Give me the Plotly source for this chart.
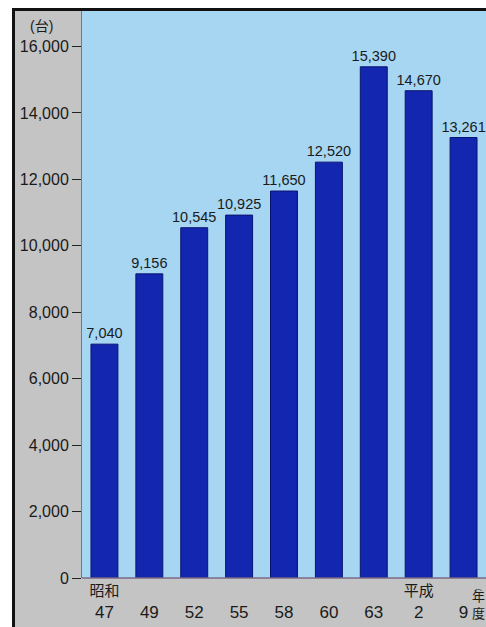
import plotly.graph_objects as go

categories = ["S47", "S49", "S52", "S55", "S58", "S60", "S63", "H2", "H9"]
tick_labels = ["<span style='font-size:15px'>昭和</span><br>47", "\u00a0<br>49", "\u00a0<br>52",
               "\u00a0<br>55", "\u00a0<br>58", "\u00a0<br>60", "\u00a0<br>63",
               "<span style='font-size:15px'>平成</span><br>2", "\u00a0<br>9"]
values = [7040, 9156, 10545, 10925, 11650, 12520, 15390, 14670, 13261]
value_labels = [f"{v:,}" for v in values]
y_ticks = [0, 2000, 4000, 6000, 8000, 10000, 12000, 14000, 16000]
y_tick_labels = [f"{v:,}" for v in y_ticks]

W, H = 486, 627
ml, mr, mt, mb = 82, 0, 10, 49
pw, ph = W - ml - mr, H - mt - mb
FONT = "Liberation Sans, Arial, Noto Sans CJK JP"

def px_x(x):
    return (x - ml) / pw

def px_y(y):
    return (H - mb - y) / ph

fig = go.Figure()
fig.add_trace(go.Bar(
    x=categories, y=values, text=value_labels, textposition="outside",
    textfont=dict(family=FONT, size=14.5, color="#1a1a1a"),
    marker=dict(color="#1226b0", line=dict(color="#0a1470", width=1)),
    cliponaxis=False, width=0.6, constraintext="none",
))

fig.update_layout(
    width=W, height=H,
    margin=dict(l=ml, r=mr, t=mt, b=mb),
    paper_bgcolor="#c4c4c4",
    plot_bgcolor="#a6d6f2",
    showlegend=False,
    font=dict(family=FONT, color="#1a1a1a"),
    xaxis=dict(
        tickmode="array", tickvals=categories, ticktext=tick_labels,
        tickfont=dict(size=17), ticks="", showline=False,
        range=[-0.5, 8.5], fixedrange=True,
    ),
    yaxis=dict(
        range=[0, 17100], tickmode="array", tickvals=y_ticks, ticktext=y_tick_labels,
        ticks="outside", ticklen=9, tickwidth=1.3, tickcolor="#222",
        tickfont=dict(size=16), showgrid=False, zeroline=False,
        showline=True, linecolor="#6a7a8a", linewidth=1, fixedrange=True,
    ),
    shapes=[
        dict(type="rect", xref="paper", yref="paper", x0=px_x(0), x1=px_x(12), y0=px_y(H), y1=px_y(0),
             fillcolor="white", line=dict(width=0)),
        dict(type="rect", xref="paper", yref="paper", x0=px_x(0), x1=px_x(W), y0=px_y(8), y1=px_y(0),
             fillcolor="white", line=dict(width=0)),
        dict(type="rect", xref="paper", yref="paper", x0=px_x(12), x1=px_x(15), y0=px_y(H), y1=px_y(8),
             fillcolor="#111", line=dict(width=0)),
        dict(type="rect", xref="paper", yref="paper", x0=px_x(12), x1=px_x(W), y0=px_y(11), y1=px_y(8),
             fillcolor="#111", line=dict(width=0)),
        dict(type="line", xref="paper", yref="paper", x0=0, x1=1, y0=0, y1=0,
             line=dict(color="#7a6a8a", width=1.5)),
    ],
    annotations=[
        dict(text="(台)", xref="paper", yref="paper", x=px_x(41), y=px_y(26),
             showarrow=False, font=dict(size=14), xanchor="center", yanchor="middle"),
        dict(text="︵", xref="paper", yref="paper", x=px_x(478), y=px_y(587),
             showarrow=False, font=dict(size=8), xanchor="center", yanchor="middle"),
        dict(text="年<br>度", xref="paper", yref="paper", x=px_x(478), y=px_y(605),
             showarrow=False, font=dict(size=13), xanchor="center", yanchor="middle"),
    ],
)

fig.write_html("out.html", config={"displayModeBar": False},
               post_script="document.body.style.margin='0';document.body.style.overflow='hidden';")
